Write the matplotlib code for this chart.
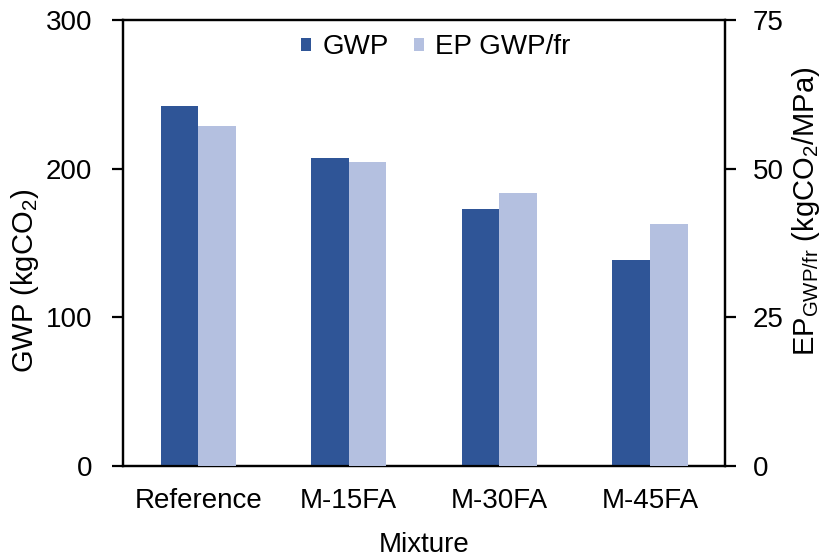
import numpy as np
import matplotlib
matplotlib.use('Agg')
import matplotlib.pyplot as plt

plt.rcParams['font.family'] = ['Liberation Sans', 'DejaVu Sans']
plt.rcParams['mathtext.fontset'] = 'custom'
plt.rcParams['mathtext.rm'] = 'Liberation Sans'
plt.rcParams['mathtext.it'] = 'Liberation Sans:italic'
plt.rcParams['mathtext.default'] = 'regular'

#################################################
# DATA
#################################################
mixtures = ['Reference', 'M-15FA', 'M-30FA', 'M-45FA']
gwp = [242, 207, 173, 138.5]          # kgCO2, left axis
ep_gwp_fr = [57.2, 51.1, 45.9, 40.7]  # kgCO2/MPa, right axis

dark_blue = '#2F5597'
light_blue = '#B4C0E0'

#################################################
# PLOT
#################################################
fs = 20
fig = plt.figure(figsize=(8.22, 5.58), dpi=100)
ax = fig.add_axes([0.1496, 0.1649, 0.7326, 0.7993])
ax2 = ax.twinx()

x = np.arange(len(mixtures))
w = 0.25

b1 = ax.bar(x - w/2, gwp, w, color=dark_blue, label='GWP', zorder=3)
b2 = ax2.bar(x + w/2, ep_gwp_fr, w, color=light_blue, label='EP GWP/fr', zorder=3)

ax.set_xlim(-0.5, 3.5)
ax.set_ylim(0, 300)
ax2.set_ylim(0, 75)
ax.set_yticks([0, 100, 200, 300])
ax2.set_yticks([0, 25, 50, 75])
ax.set_xticks(x)
ax.set_xticklabels(mixtures)

ax.set_ylabel(r'GWP (kgCO$_2$)', fontsize=21)
ax2.set_ylabel(r'EP$_{\mathrm{GWP/fr}}$ (kgCO$_2$/MPa)', fontsize=21)
ax.set_xlabel('Mixture', fontsize=fs)
ax.yaxis.set_label_coords(-0.136, 0.415)
ax2.yaxis.set_label_coords(1.108, 0.572)
ax.xaxis.set_label_coords(0.5, -0.148)

for a in (ax, ax2):
    for s in a.spines.values():
        s.set_linewidth(1.6)
ax.tick_params(axis='y', labelsize=fs, direction='out', length=8, width=1.6, pad=14)
ax2.tick_params(axis='y', labelsize=fs, direction='out', length=8, width=1.6, pad=12)
ax.tick_params(axis='x', labelsize=fs, length=0, pad=16)

leg = ax.legend([b1, b2], ['GWP', 'EP GWP/fr'], loc='center',
                bbox_to_anchor=(0.519, 0.939), ncol=2, frameon=False, fontsize=fs,
                handlelength=0.36, handleheight=0.36, handletextpad=0.4,
                columnspacing=0.9, borderpad=0, borderaxespad=0)

fig.savefig('out.png', dpi=100)
